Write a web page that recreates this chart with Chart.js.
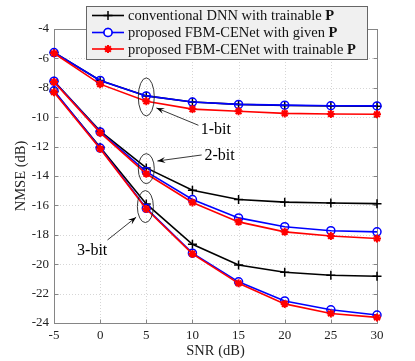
<!DOCTYPE html>
<html><head><meta charset="utf-8">
<script src="https://cdn.jsdelivr.net/npm/chart.js@4"></script>
<style>html,body{margin:0;padding:0;background:#fff}#wrap{width:415px;height:361px;position:relative}</style>
</head><body><div id="wrap"><canvas id="c" width="415" height="361"></canvas></div>
<script>
// ---------- data ----------
const snr = [-5, 0, 5, 10, 15, 20, 25, 30];
const xTickLabels = ['-5','0','5','10','15','20','25','30'];
const yTickValues = [-24,-22,-20,-18,-16,-14,-12,-10,-8,-6,-4];
const seriesNames = ['conventional DNN with trainable ', 'proposed FBM-CENet with given ', 'proposed FBM-CENet with trainable '];
const boldSymbol = 'P';
const bitLabels = ['1-bit', '2-bit', '3-bit'];

// 1-bit
const conv1  = [-5.60, -7.50, -8.55, -8.97, -9.13, -9.20, -9.24, -9.26];
const given1 = [-5.60, -7.50, -8.55, -8.97, -9.13, -9.18, -9.22, -9.23];
const train1 = [-5.65, -7.75, -8.92, -9.45, -9.60, -9.74, -9.78, -9.80];
// 2-bit
const conv2  = [-7.55, -10.95, -13.45, -14.97, -15.60, -15.78, -15.84, -15.88];
const given2 = [-7.55, -11.00, -13.70, -15.60, -16.85, -17.45, -17.72, -17.80];
const train2 = [-7.60, -11.05, -13.85, -15.80, -17.12, -17.80, -18.08, -18.25];
// 3-bit
const conv3  = [-8.25, -12.05, -15.90, -18.65, -20.05, -20.55, -20.75, -20.82];
const given3 = [-8.20, -12.10, -16.20, -19.25, -21.20, -22.50, -23.10, -23.46];
const train3 = [-8.30, -12.15, -16.25, -19.30, -21.30, -22.70, -23.35, -23.62];

// ---------- styles ----------
const SERIF = '"Liberation Serif", "Times New Roman", serif';
const styles = [
  {color: '#000000', pointStyle: 'cross',  radius: 4.5, order: 2, bw: 1.5},
  {color: '#0000ff', pointStyle: 'circle', radius: 4,   order: 1, bw: 1.5},
  {color: '#ff0000', pointStyle: 'star',   radius: 4,   order: 0, bw: 2}
];
const groups = [[conv1, given1, train1], [conv2, given2, train2], [conv3, given3, train3]];

const datasets = [];
groups.forEach((g) => {
  g.forEach((vals, k) => {
    const s = styles[k];
    datasets.push({
      label: seriesNames[k] + boldSymbol,
      data: snr.map((x, i) => ({x: x, y: vals[i]})),
      borderColor: s.color,
      backgroundColor: 'rgba(0,0,0,0)',
      borderWidth: 1.6,
      pointStyle: s.pointStyle,
      pointRadius: s.radius,
      pointBorderWidth: s.bw,
      pointBorderColor: s.color,
      pointBackgroundColor: 'rgba(0,0,0,0)',
      tension: 0,
      order: s.order,
      clip: false
    });
  });
});

// annotation layout (data units)
const annot = [
  {label: bitLabels[0], cx: 5, cy: -8.62, rx: 8, ry: 19, tx: 10.9, ty: -10.87, ax0: 10.65, ay0: -10.55, ax1: 6.1, ay1: -9.37},
  {label: bitLabels[1], cx: 5, cy: -13.5,  rx: 8, ry: 15, tx: 11.3, ty: -12.64, ax0: 11.0, ay0: -12.57, ax1: 6.2, ay1: -12.98},
  {label: bitLabels[2], cx: 4.9, cy: -16.08, rx: 8, ry: 16, tx: -2.5, ty: -19.1, ax0: 0.8, ay0: -18.35, ax1: 3.9, ay1: -16.8}
];

const AXIS = '#858585';

const decor = {
  id: 'decor',
  beforeDatasetsDraw(chart) {
    const ctx = chart.ctx, a = chart.chartArea;
    const xs = chart.scales.x, ys = chart.scales.y;
    ctx.save();
    // dotted grid
    ctx.strokeStyle = '#d6d6d6';
    ctx.lineWidth = 1;
    ctx.setLineDash([1, 2]);
    snr.forEach(v => {
      const px = Math.round(xs.getPixelForValue(v)) + 0.5;
      ctx.beginPath(); ctx.moveTo(px, a.top); ctx.lineTo(px, a.bottom); ctx.stroke();
    });
    yTickValues.forEach(v => {
      const py = Math.round(ys.getPixelForValue(v)) + 0.5;
      ctx.beginPath(); ctx.moveTo(a.left, py); ctx.lineTo(a.right, py); ctx.stroke();
    });
    ctx.setLineDash([]);
    // box
    ctx.strokeStyle = AXIS;
    ctx.lineWidth = 1;
    const L = Math.round(a.left) + 0.5, R = Math.round(a.right) + 0.5, T = Math.round(a.top) + 0.5, B = Math.round(a.bottom) + 0.5;
    ctx.strokeRect(L, T, R - L, B - T);
    // inward ticks
    const tl = 4;
    snr.forEach(v => {
      const px = Math.round(xs.getPixelForValue(v)) + 0.5;
      ctx.beginPath(); ctx.moveTo(px, B); ctx.lineTo(px, B - tl); ctx.moveTo(px, T); ctx.lineTo(px, T + tl); ctx.stroke();
    });
    yTickValues.forEach(v => {
      const py = Math.round(ys.getPixelForValue(v)) + 0.5;
      ctx.beginPath(); ctx.moveTo(L, py); ctx.lineTo(L + tl, py); ctx.moveTo(R, py); ctx.lineTo(R - tl, py); ctx.stroke();
    });
    ctx.restore();
  },
  afterDatasetsDraw(chart) {
    const ctx = chart.ctx, a = chart.chartArea;
    const xs = chart.scales.x, ys = chart.scales.y;
    ctx.save();
    // annotations
    ctx.strokeStyle = '#222';
    ctx.fillStyle = '#000';
    ctx.lineWidth = 0.9;
    annot.forEach(an => {
      const cx = xs.getPixelForValue(an.cx), cy = ys.getPixelForValue(an.cy);
      ctx.beginPath(); ctx.ellipse(cx, cy, an.rx, an.ry, 0, 0, Math.PI * 2); ctx.stroke();
      const x0 = xs.getPixelForValue(an.ax0), y0 = ys.getPixelForValue(an.ay0);
      const x1 = xs.getPixelForValue(an.ax1), y1 = ys.getPixelForValue(an.ay1);
      ctx.beginPath(); ctx.moveTo(x0, y0); ctx.lineTo(x1, y1); ctx.stroke();
      const ang = Math.atan2(y1 - y0, x1 - x0), hl = 8, hw = 3;
      ctx.beginPath();
      ctx.moveTo(x1, y1);
      ctx.lineTo(x1 - hl * Math.cos(ang) + hw * Math.sin(ang), y1 - hl * Math.sin(ang) - hw * Math.cos(ang));
      ctx.lineTo(x1 - hl * 0.6 * Math.cos(ang), y1 - hl * 0.6 * Math.sin(ang));
      ctx.lineTo(x1 - hl * Math.cos(ang) - hw * Math.sin(ang), y1 - hl * Math.sin(ang) + hw * Math.cos(ang));
      ctx.closePath(); ctx.fill();
      ctx.font = '16px ' + SERIF;
      ctx.textAlign = 'left'; ctx.textBaseline = 'middle';
      ctx.fillText(an.label, xs.getPixelForValue(an.tx), ys.getPixelForValue(an.ty));
    });
    // axis titles
    ctx.fillStyle = '#222';
    ctx.font = '14.5px ' + SERIF;
    ctx.textAlign = 'center'; ctx.textBaseline = 'middle';
    ctx.fillText('SNR (dB)', (a.left + a.right) / 2, 351);
    ctx.save();
    ctx.translate(21, (a.top + a.bottom) / 2);
    ctx.rotate(-Math.PI / 2);
    ctx.fillText('NMSE (dB)', 0, 0);
    ctx.restore();
    // legend
    const lx = 86.5, ly = 6.5, lw = 281, lh = 53;
    ctx.fillStyle = '#f0f0f0';
    ctx.fillRect(lx, ly, lw, lh);
    ctx.strokeStyle = '#666';
    ctx.lineWidth = 1;
    ctx.strokeRect(lx, ly, lw, lh);
    const rows = [15.5, 32.5, 49];
    seriesNames.forEach((name, k) => {
      const s = styles[k], y = rows[k];
      ctx.strokeStyle = s.color; ctx.lineWidth = 1.6;
      ctx.beginPath(); ctx.moveTo(92, y); ctx.lineTo(124, y); ctx.stroke();
      ctx.lineWidth = s.bw;
      Chart.helpers.drawPoint(ctx, {pointStyle: s.pointStyle, radius: s.radius, borderWidth: s.bw, rotation: 0}, 108, y);
      if (s.pointStyle === 'circle') {
        ctx.fillStyle = '#ffffff';
        ctx.beginPath(); ctx.arc(108, y, s.radius, 0, Math.PI * 2); ctx.fill();
        ctx.strokeStyle = s.color; ctx.stroke();
      }
      ctx.fillStyle = '#111';
      ctx.textAlign = 'left'; ctx.textBaseline = 'middle';
      ctx.font = '14.5px ' + SERIF;
      ctx.fillText(name, 128, y + 1);
      const w = ctx.measureText(name).width;
      ctx.font = 'bold 14.5px ' + SERIF;
      ctx.fillText(boldSymbol, 128 + w, y + 1);
    });
    ctx.restore();
  }
};

new Chart(document.getElementById('c'), {
  type: 'line',
  data: {datasets: datasets},
  plugins: [decor],
  options: {
    responsive: false,
    animation: false,
    devicePixelRatio: 1,
    layout: {padding: {top: 29, right: 38, left: 0, bottom: 0}},
    plugins: {legend: {display: false}, tooltip: {enabled: false}},
    scales: {
      x: {
        type: 'linear', min: -5, max: 30,
        afterFit(s) { s.height = 38; },
        afterBuildTicks(s) { s.ticks = snr.map(v => ({value: v})); },
        grid: {display: false, drawTicks: false},
        border: {display: false},
        ticks: {
          padding: 5, color: '#222', maxRotation: 0,
          font: {family: SERIF, size: 13},
          callback: (v) => xTickLabels[snr.indexOf(v)]
        }
      },
      y: {
        type: 'linear', min: -24, max: -4,
        afterFit(s) { s.width = 54; },
        afterBuildTicks(s) { s.ticks = yTickValues.map(v => ({value: v})); },
        grid: {display: false, drawTicks: false},
        border: {display: false},
        ticks: {padding: 5, color: '#222', font: {family: SERIF, size: 13}}
      }
    }
  }
});
</script></body></html>
